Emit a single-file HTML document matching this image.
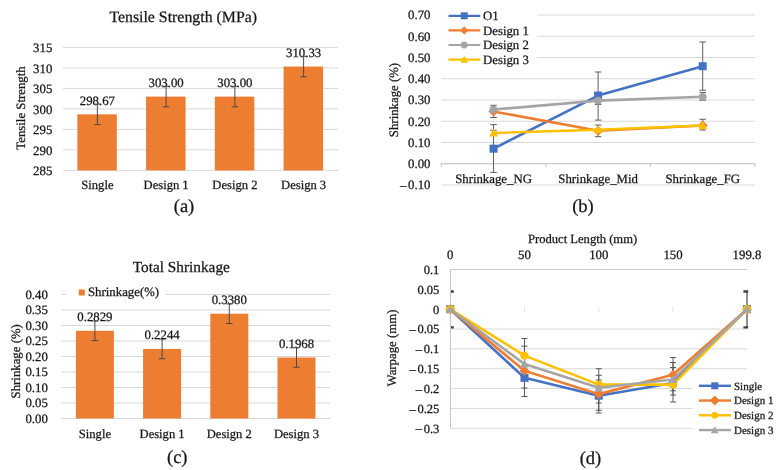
<!DOCTYPE html>
<html><head><meta charset="utf-8"><style>
html,body{margin:0;padding:0;background:#fff;}
svg{display:block;will-change:transform;}
text{font-family:"Liberation Serif", serif;text-rendering:geometricPrecision;stroke:#151515;stroke-width:0.25px;paint-order:stroke;}
</style></head><body>
<svg width="780" height="470" viewBox="0 0 780 470">
<rect x="0" y="0" width="780" height="470" fill="#fff"/>
<line x1="63.00" y1="170.40" x2="338.00" y2="170.40" stroke="#D9D9D9" stroke-width="1" />
<text x="52.30" y="175.10" font-size="12.8" text-anchor="end" fill="#151515" >285</text>
<line x1="63.00" y1="149.90" x2="338.00" y2="149.90" stroke="#D9D9D9" stroke-width="1" />
<text x="52.30" y="154.60" font-size="12.8" text-anchor="end" fill="#151515" >290</text>
<line x1="63.00" y1="129.40" x2="338.00" y2="129.40" stroke="#D9D9D9" stroke-width="1" />
<text x="52.30" y="134.10" font-size="12.8" text-anchor="end" fill="#151515" >295</text>
<line x1="63.00" y1="108.90" x2="338.00" y2="108.90" stroke="#D9D9D9" stroke-width="1" />
<text x="52.30" y="113.60" font-size="12.8" text-anchor="end" fill="#151515" >300</text>
<line x1="63.00" y1="88.40" x2="338.00" y2="88.40" stroke="#D9D9D9" stroke-width="1" />
<text x="52.30" y="93.10" font-size="12.8" text-anchor="end" fill="#151515" >305</text>
<line x1="63.00" y1="67.90" x2="338.00" y2="67.90" stroke="#D9D9D9" stroke-width="1" />
<text x="52.30" y="72.60" font-size="12.8" text-anchor="end" fill="#151515" >310</text>
<line x1="63.00" y1="47.40" x2="338.00" y2="47.40" stroke="#D9D9D9" stroke-width="1" />
<text x="52.30" y="52.10" font-size="12.8" text-anchor="end" fill="#151515" >315</text>
<text x="183.20" y="21.90" font-size="15.85" text-anchor="middle" fill="#151515" >Tensile Strength (MPa)</text>
<text x="0" y="0" font-size="12.8" text-anchor="middle" fill="#151515" transform="translate(25.00,108.00) rotate(-90)">Tensile Strength</text>
<rect x="77.33" y="114.35" width="39.50" height="56.05" fill="#ED7D31"/>
<rect x="146.07" y="96.60" width="39.50" height="73.80" fill="#ED7D31"/>
<rect x="214.82" y="96.60" width="39.50" height="73.80" fill="#ED7D31"/>
<rect x="283.57" y="66.55" width="39.50" height="103.85" fill="#ED7D31"/>
<text x="97.38" y="104.55" font-size="12.8" text-anchor="middle" fill="#151515" >298.67</text>
<line x1="97.38" y1="104.10" x2="97.38" y2="124.60" stroke="#4A4A4A" stroke-width="1" />
<line x1="94.12" y1="104.10" x2="100.62" y2="104.10" stroke="#4A4A4A" stroke-width="1" />
<line x1="94.12" y1="124.60" x2="100.62" y2="124.60" stroke="#4A4A4A" stroke-width="1" />
<text x="97.38" y="189.20" font-size="12.6" text-anchor="middle" fill="#151515" >Single</text>
<text x="166.12" y="86.80" font-size="12.8" text-anchor="middle" fill="#151515" >303.00</text>
<line x1="166.12" y1="86.35" x2="166.12" y2="106.85" stroke="#4A4A4A" stroke-width="1" />
<line x1="162.88" y1="86.35" x2="169.38" y2="86.35" stroke="#4A4A4A" stroke-width="1" />
<line x1="162.88" y1="106.85" x2="169.38" y2="106.85" stroke="#4A4A4A" stroke-width="1" />
<text x="166.12" y="189.20" font-size="12.6" text-anchor="middle" fill="#151515" >Design 1</text>
<text x="234.88" y="86.80" font-size="12.8" text-anchor="middle" fill="#151515" >303.00</text>
<line x1="234.88" y1="86.35" x2="234.88" y2="106.85" stroke="#4A4A4A" stroke-width="1" />
<line x1="231.62" y1="86.35" x2="238.12" y2="86.35" stroke="#4A4A4A" stroke-width="1" />
<line x1="231.62" y1="106.85" x2="238.12" y2="106.85" stroke="#4A4A4A" stroke-width="1" />
<text x="234.88" y="189.20" font-size="12.6" text-anchor="middle" fill="#151515" >Design 2</text>
<text x="303.62" y="56.75" font-size="12.8" text-anchor="middle" fill="#151515" >310.33</text>
<line x1="303.62" y1="56.30" x2="303.62" y2="76.80" stroke="#4A4A4A" stroke-width="1" />
<line x1="300.38" y1="56.30" x2="306.88" y2="56.30" stroke="#4A4A4A" stroke-width="1" />
<line x1="300.38" y1="76.80" x2="306.88" y2="76.80" stroke="#4A4A4A" stroke-width="1" />
<text x="303.62" y="189.20" font-size="12.6" text-anchor="middle" fill="#151515" >Design 3</text>
<text x="184.00" y="212.00" font-size="18.5" text-anchor="middle" fill="#151515" >(a)</text>
<line x1="441.25" y1="185.00" x2="755.00" y2="185.00" stroke="#D9D9D9" stroke-width="1" />
<line x1="441.25" y1="142.50" x2="755.00" y2="142.50" stroke="#D9D9D9" stroke-width="1" />
<line x1="441.25" y1="121.25" x2="755.00" y2="121.25" stroke="#D9D9D9" stroke-width="1" />
<line x1="441.25" y1="100.00" x2="755.00" y2="100.00" stroke="#D9D9D9" stroke-width="1" />
<line x1="441.25" y1="78.75" x2="755.00" y2="78.75" stroke="#D9D9D9" stroke-width="1" />
<line x1="441.25" y1="57.50" x2="755.00" y2="57.50" stroke="#D9D9D9" stroke-width="1" />
<line x1="441.25" y1="36.25" x2="755.00" y2="36.25" stroke="#D9D9D9" stroke-width="1" />
<line x1="441.25" y1="15.00" x2="755.00" y2="15.00" stroke="#D9D9D9" stroke-width="1" />
<text x="430.50" y="189.30" font-size="12.8" text-anchor="end" fill="#151515" >0.10</text>
<line x1="399.80" y1="186.50" x2="406.80" y2="186.50" stroke="#2A2A2A" stroke-width="0.9" />
<text x="430.50" y="168.05" font-size="12.8" text-anchor="end" fill="#151515" >0.00</text>
<text x="430.50" y="146.80" font-size="12.8" text-anchor="end" fill="#151515" >0.10</text>
<text x="430.50" y="125.55" font-size="12.8" text-anchor="end" fill="#151515" >0.20</text>
<text x="430.50" y="104.30" font-size="12.8" text-anchor="end" fill="#151515" >0.30</text>
<text x="430.50" y="83.05" font-size="12.8" text-anchor="end" fill="#151515" >0.40</text>
<text x="430.50" y="61.80" font-size="12.8" text-anchor="end" fill="#151515" >0.50</text>
<text x="430.50" y="40.55" font-size="12.8" text-anchor="end" fill="#151515" >0.60</text>
<text x="430.50" y="19.30" font-size="12.8" text-anchor="end" fill="#151515" >0.70</text>
<line x1="441.25" y1="163.75" x2="755.00" y2="163.75" stroke="#BFBFBF" stroke-width="1" />
<line x1="441.25" y1="163.75" x2="441.25" y2="166.75" stroke="#BFBFBF" stroke-width="1" />
<line x1="545.83" y1="163.75" x2="545.83" y2="166.75" stroke="#BFBFBF" stroke-width="1" />
<line x1="650.42" y1="163.75" x2="650.42" y2="166.75" stroke="#BFBFBF" stroke-width="1" />
<line x1="755.00" y1="163.75" x2="755.00" y2="166.75" stroke="#BFBFBF" stroke-width="1" />
<text x="0" y="0" font-size="12.8" text-anchor="middle" fill="#151515" transform="translate(397.80,100.00) rotate(-90)">Shrinkage (%)</text>
<text x="493.54" y="182.70" font-size="12.8" text-anchor="middle" fill="#151515" >Shrinkage_NG</text>
<text x="598.12" y="182.70" font-size="12.8" text-anchor="middle" fill="#151515" >Shrinkage_Mid</text>
<text x="702.71" y="182.70" font-size="12.8" text-anchor="middle" fill="#151515" >Shrinkage_FG</text>
<line x1="493.54" y1="124.60" x2="493.54" y2="172.40" stroke="#5F5F5F" stroke-width="1" />
<line x1="490.29" y1="124.60" x2="496.79" y2="124.60" stroke="#5F5F5F" stroke-width="1" />
<line x1="490.29" y1="172.40" x2="496.79" y2="172.40" stroke="#5F5F5F" stroke-width="1" />
<line x1="493.54" y1="105.30" x2="493.54" y2="117.50" stroke="#5F5F5F" stroke-width="1" />
<line x1="490.29" y1="105.30" x2="496.79" y2="105.30" stroke="#5F5F5F" stroke-width="1" />
<line x1="490.29" y1="117.50" x2="496.79" y2="117.50" stroke="#5F5F5F" stroke-width="1" />
<line x1="493.54" y1="130.30" x2="493.54" y2="135.00" stroke="#5F5F5F" stroke-width="1" />
<line x1="490.29" y1="130.30" x2="496.79" y2="130.30" stroke="#5F5F5F" stroke-width="1" />
<line x1="490.29" y1="135.00" x2="496.79" y2="135.00" stroke="#5F5F5F" stroke-width="1" />
<line x1="598.12" y1="72.00" x2="598.12" y2="120.10" stroke="#5F5F5F" stroke-width="1" />
<line x1="594.88" y1="72.00" x2="601.38" y2="72.00" stroke="#5F5F5F" stroke-width="1" />
<line x1="594.88" y1="120.10" x2="601.38" y2="120.10" stroke="#5F5F5F" stroke-width="1" />
<line x1="598.12" y1="125.00" x2="598.12" y2="136.70" stroke="#5F5F5F" stroke-width="1" />
<line x1="594.88" y1="125.00" x2="601.38" y2="125.00" stroke="#5F5F5F" stroke-width="1" />
<line x1="594.88" y1="136.70" x2="601.38" y2="136.70" stroke="#5F5F5F" stroke-width="1" />
<line x1="598.12" y1="97.00" x2="598.12" y2="104.50" stroke="#5F5F5F" stroke-width="1" />
<line x1="594.88" y1="97.00" x2="601.38" y2="97.00" stroke="#5F5F5F" stroke-width="1" />
<line x1="594.88" y1="104.50" x2="601.38" y2="104.50" stroke="#5F5F5F" stroke-width="1" />
<line x1="702.71" y1="42.00" x2="702.71" y2="90.20" stroke="#5F5F5F" stroke-width="1" />
<line x1="699.46" y1="42.00" x2="705.96" y2="42.00" stroke="#5F5F5F" stroke-width="1" />
<line x1="699.46" y1="90.20" x2="705.96" y2="90.20" stroke="#5F5F5F" stroke-width="1" />
<line x1="702.71" y1="92.40" x2="702.71" y2="100.20" stroke="#5F5F5F" stroke-width="1" />
<line x1="699.46" y1="92.40" x2="705.96" y2="92.40" stroke="#5F5F5F" stroke-width="1" />
<line x1="699.46" y1="100.20" x2="705.96" y2="100.20" stroke="#5F5F5F" stroke-width="1" />
<line x1="702.71" y1="119.30" x2="702.71" y2="130.00" stroke="#5F5F5F" stroke-width="1" />
<line x1="699.46" y1="119.30" x2="705.96" y2="119.30" stroke="#5F5F5F" stroke-width="1" />
<line x1="699.46" y1="130.00" x2="705.96" y2="130.00" stroke="#5F5F5F" stroke-width="1" />
<polyline points="493.54,148.66 598.12,95.54 702.71,66.21" fill="none" stroke="#4472C4" stroke-width="2.6" stroke-linejoin="round"/>
<rect x="489.54" y="144.66" width="8.00" height="8.00" fill="#4472C4"/>
<rect x="594.12" y="91.54" width="8.00" height="8.00" fill="#4472C4"/>
<rect x="698.71" y="62.21" width="8.00" height="8.00" fill="#4472C4"/>
<polyline points="493.54,111.47 598.12,130.81 702.71,125.50" fill="none" stroke="#ED7D31" stroke-width="2.6" stroke-linejoin="round"/>
<polygon points="493.54,106.52 498.50,111.47 493.54,116.43 488.58,111.47" fill="#ED7D31"/>
<polygon points="598.12,125.85 603.09,130.81 598.12,135.77 593.16,130.81" fill="#ED7D31"/>
<polygon points="702.71,120.54 707.67,125.50 702.71,130.46 697.75,125.50" fill="#ED7D31"/>
<polyline points="493.54,109.56 598.12,100.64 702.71,96.81" fill="none" stroke="#A5A5A5" stroke-width="2.6" stroke-linejoin="round"/>
<circle cx="493.54" cy="109.56" r="3.90" fill="#A5A5A5"/>
<circle cx="598.12" cy="100.64" r="3.90" fill="#A5A5A5"/>
<circle cx="702.71" cy="96.81" r="3.90" fill="#A5A5A5"/>
<polyline points="493.54,132.94 598.12,129.75 702.71,125.50" fill="none" stroke="#FFC000" stroke-width="2.6" stroke-linejoin="round"/>
<polygon points="493.54,128.54 497.94,136.54 489.14,136.54" fill="#FFC000"/>
<polygon points="598.12,125.35 602.52,133.35 593.73,133.35" fill="#FFC000"/>
<polygon points="702.71,121.10 707.11,129.10 698.31,129.10" fill="#FFC000"/>
<rect x="440.50" y="5.00" width="96.50" height="62.00" fill="#FFFFFF"/>
<line x1="448.50" y1="15.80" x2="480.30" y2="15.80" stroke="#4472C4" stroke-width="2.2" />
<rect x="460.75" y="12.30" width="7.00" height="7.00" fill="#4472C4"/>
<text x="483.00" y="20.20" font-size="12.8" text-anchor="start" fill="#151515" >O1</text>
<line x1="448.50" y1="30.40" x2="480.30" y2="30.40" stroke="#ED7D31" stroke-width="2.2" />
<polygon points="464.25,26.37 468.28,30.40 464.25,34.43 460.22,30.40" fill="#ED7D31"/>
<text x="483.00" y="34.80" font-size="12.8" text-anchor="start" fill="#151515" >Design 1</text>
<line x1="448.50" y1="45.00" x2="480.30" y2="45.00" stroke="#A5A5A5" stroke-width="2.2" />
<circle cx="464.25" cy="45.00" r="3.40" fill="#A5A5A5"/>
<text x="483.00" y="49.40" font-size="12.8" text-anchor="start" fill="#151515" >Design 2</text>
<line x1="448.50" y1="59.60" x2="480.30" y2="59.60" stroke="#FFC000" stroke-width="2.2" />
<polygon points="464.25,55.75 468.10,62.75 460.40,62.75" fill="#FFC000"/>
<text x="483.00" y="64.00" font-size="12.8" text-anchor="start" fill="#151515" >Design 3</text>
<text x="583.00" y="212.00" font-size="18.5" text-anchor="middle" fill="#151515" >(b)</text>
<line x1="61.30" y1="418.50" x2="330.10" y2="418.50" stroke="#D9D9D9" stroke-width="1" />
<text x="47.80" y="422.90" font-size="12.8" text-anchor="end" fill="#151515" >0.00</text>
<line x1="61.30" y1="403.00" x2="330.10" y2="403.00" stroke="#D9D9D9" stroke-width="1" />
<text x="47.80" y="407.40" font-size="12.8" text-anchor="end" fill="#151515" >0.05</text>
<line x1="61.30" y1="387.50" x2="330.10" y2="387.50" stroke="#D9D9D9" stroke-width="1" />
<text x="47.80" y="391.90" font-size="12.8" text-anchor="end" fill="#151515" >0.10</text>
<line x1="61.30" y1="372.00" x2="330.10" y2="372.00" stroke="#D9D9D9" stroke-width="1" />
<text x="47.80" y="376.40" font-size="12.8" text-anchor="end" fill="#151515" >0.15</text>
<line x1="61.30" y1="356.50" x2="330.10" y2="356.50" stroke="#D9D9D9" stroke-width="1" />
<text x="47.80" y="360.90" font-size="12.8" text-anchor="end" fill="#151515" >0.20</text>
<line x1="61.30" y1="341.00" x2="330.10" y2="341.00" stroke="#D9D9D9" stroke-width="1" />
<text x="47.80" y="345.40" font-size="12.8" text-anchor="end" fill="#151515" >0.25</text>
<line x1="61.30" y1="325.50" x2="330.10" y2="325.50" stroke="#D9D9D9" stroke-width="1" />
<text x="47.80" y="329.90" font-size="12.8" text-anchor="end" fill="#151515" >0.30</text>
<line x1="61.30" y1="310.00" x2="330.10" y2="310.00" stroke="#D9D9D9" stroke-width="1" />
<text x="47.80" y="314.40" font-size="12.8" text-anchor="end" fill="#151515" >0.35</text>
<line x1="61.30" y1="294.50" x2="330.10" y2="294.50" stroke="#D9D9D9" stroke-width="1" />
<text x="47.80" y="298.90" font-size="12.8" text-anchor="end" fill="#151515" >0.40</text>
<text x="181.30" y="271.90" font-size="15.3" text-anchor="middle" fill="#151515" >Total Shrinkage</text>
<text x="0" y="0" font-size="12.8" text-anchor="middle" fill="#151515" transform="translate(19.80,361.30) rotate(-90)">Shrinkage (%)</text>
<rect x="75.90" y="330.80" width="38.00" height="87.70" fill="#ED7D31"/>
<rect x="143.10" y="348.94" width="38.00" height="69.56" fill="#ED7D31"/>
<rect x="210.30" y="313.72" width="38.00" height="104.78" fill="#ED7D31"/>
<rect x="277.50" y="357.49" width="38.00" height="61.01" fill="#ED7D31"/>
<text x="94.90" y="321.30" font-size="12.8" text-anchor="middle" fill="#151515" >0.2829</text>
<line x1="94.90" y1="321.00" x2="94.90" y2="340.60" stroke="#4A4A4A" stroke-width="1" />
<line x1="91.65" y1="321.00" x2="98.15" y2="321.00" stroke="#4A4A4A" stroke-width="1" />
<line x1="91.65" y1="340.60" x2="98.15" y2="340.60" stroke="#4A4A4A" stroke-width="1" />
<text x="94.90" y="437.70" font-size="12.6" text-anchor="middle" fill="#151515" >Single</text>
<text x="162.10" y="339.44" font-size="12.8" text-anchor="middle" fill="#151515" >0.2244</text>
<line x1="162.10" y1="339.14" x2="162.10" y2="358.74" stroke="#4A4A4A" stroke-width="1" />
<line x1="158.85" y1="339.14" x2="165.35" y2="339.14" stroke="#4A4A4A" stroke-width="1" />
<line x1="158.85" y1="358.74" x2="165.35" y2="358.74" stroke="#4A4A4A" stroke-width="1" />
<text x="162.10" y="437.70" font-size="12.6" text-anchor="middle" fill="#151515" >Design 1</text>
<text x="229.30" y="304.22" font-size="12.8" text-anchor="middle" fill="#151515" >0.3380</text>
<line x1="229.30" y1="303.92" x2="229.30" y2="323.52" stroke="#4A4A4A" stroke-width="1" />
<line x1="226.05" y1="303.92" x2="232.55" y2="303.92" stroke="#4A4A4A" stroke-width="1" />
<line x1="226.05" y1="323.52" x2="232.55" y2="323.52" stroke="#4A4A4A" stroke-width="1" />
<text x="229.30" y="437.70" font-size="12.6" text-anchor="middle" fill="#151515" >Design 2</text>
<text x="296.50" y="347.99" font-size="12.8" text-anchor="middle" fill="#151515" >0.1968</text>
<line x1="296.50" y1="347.69" x2="296.50" y2="367.29" stroke="#4A4A4A" stroke-width="1" />
<line x1="293.25" y1="347.69" x2="299.75" y2="347.69" stroke="#4A4A4A" stroke-width="1" />
<line x1="293.25" y1="367.29" x2="299.75" y2="367.29" stroke="#4A4A4A" stroke-width="1" />
<text x="296.50" y="437.70" font-size="12.6" text-anchor="middle" fill="#151515" >Design 3</text>
<rect x="66.50" y="284.00" width="99.00" height="16.00" fill="#FFFFFF"/>
<rect x="78.80" y="289.50" width="6.00" height="6.00" fill="#ED7D31"/>
<text x="88.00" y="296.20" font-size="12.8" text-anchor="start" fill="#151515" >Shrinkage(%)</text>
<text x="177.25" y="462.60" font-size="18.5" text-anchor="middle" fill="#151515" >(c)</text>
<line x1="450.50" y1="329.04" x2="747.00" y2="329.04" stroke="#D9D9D9" stroke-width="1" />
<line x1="450.50" y1="348.88" x2="747.00" y2="348.88" stroke="#D9D9D9" stroke-width="1" />
<line x1="450.50" y1="368.73" x2="747.00" y2="368.73" stroke="#D9D9D9" stroke-width="1" />
<line x1="450.50" y1="388.57" x2="747.00" y2="388.57" stroke="#D9D9D9" stroke-width="1" />
<line x1="450.50" y1="408.41" x2="747.00" y2="408.41" stroke="#D9D9D9" stroke-width="1" />
<line x1="450.50" y1="269.50" x2="747.00" y2="269.50" stroke="#CACACA" stroke-width="1" />
<line x1="450.50" y1="428.26" x2="747.00" y2="428.26" stroke="#D9D9D9" stroke-width="1" />
<line x1="450.50" y1="269.50" x2="450.50" y2="428.26" stroke="#C4C4C4" stroke-width="1" />
<text x="439.30" y="273.90" font-size="12.5" text-anchor="end" fill="#151515" >0.1</text>
<text x="439.30" y="293.75" font-size="12.5" text-anchor="end" fill="#151515" >0.05</text>
<text x="439.30" y="313.59" font-size="12.5" text-anchor="end" fill="#151515" >0</text>
<text x="439.30" y="333.44" font-size="12.5" text-anchor="end" fill="#151515" >0.05</text>
<line x1="409.12" y1="330.50" x2="416.12" y2="330.50" stroke="#2A2A2A" stroke-width="0.9" />
<text x="439.30" y="353.28" font-size="12.5" text-anchor="end" fill="#151515" >0.1</text>
<line x1="415.38" y1="350.50" x2="422.38" y2="350.50" stroke="#2A2A2A" stroke-width="0.9" />
<text x="439.30" y="373.12" font-size="12.5" text-anchor="end" fill="#151515" >0.15</text>
<line x1="409.12" y1="370.50" x2="416.12" y2="370.50" stroke="#2A2A2A" stroke-width="0.9" />
<text x="439.30" y="392.97" font-size="12.5" text-anchor="end" fill="#151515" >0.2</text>
<line x1="415.38" y1="390.50" x2="422.38" y2="390.50" stroke="#2A2A2A" stroke-width="0.9" />
<text x="439.30" y="412.81" font-size="12.5" text-anchor="end" fill="#151515" >0.25</text>
<line x1="409.12" y1="410.50" x2="416.12" y2="410.50" stroke="#2A2A2A" stroke-width="0.9" />
<text x="439.30" y="432.66" font-size="12.5" text-anchor="end" fill="#151515" >0.3</text>
<line x1="415.38" y1="429.50" x2="422.38" y2="429.50" stroke="#2A2A2A" stroke-width="0.9" />
<line x1="524.48" y1="306.19" x2="524.48" y2="312.19" stroke="#E6E6E6" stroke-width="1" />
<line x1="598.75" y1="306.19" x2="598.75" y2="312.19" stroke="#E6E6E6" stroke-width="1" />
<line x1="673.02" y1="306.19" x2="673.02" y2="312.19" stroke="#E6E6E6" stroke-width="1" />
<text x="450.20" y="258.70" font-size="12.8" text-anchor="middle" fill="#151515" >0</text>
<text x="524.48" y="258.70" font-size="12.8" text-anchor="middle" fill="#151515" >50</text>
<text x="598.75" y="258.70" font-size="12.8" text-anchor="middle" fill="#151515" >100</text>
<text x="673.02" y="258.70" font-size="12.8" text-anchor="middle" fill="#151515" >150</text>
<text x="747.00" y="258.70" font-size="12.8" text-anchor="middle" fill="#151515" >199.8</text>
<text x="582.60" y="242.50" font-size="12.6" text-anchor="middle" fill="#151515" >Product Length (mm)</text>
<text x="0" y="0" font-size="12.8" text-anchor="middle" fill="#151515" transform="translate(396.00,348.00) rotate(-90)">Warpage (mm)</text>
<clipPath id="cd"><rect x="451" y="260" width="297.2" height="175"/></clipPath>
<g clip-path="url(#cd)">
<line x1="446.60" y1="291.50" x2="453.80" y2="291.50" stroke="#404040" stroke-width="2.4" />
<line x1="446.60" y1="327.40" x2="453.80" y2="327.40" stroke="#404040" stroke-width="2.4" />
<line x1="747.00" y1="291.30" x2="747.00" y2="327.30" stroke="#858585" stroke-width="1.8" />
<line x1="743.40" y1="291.50" x2="750.60" y2="291.50" stroke="#404040" stroke-width="2.4" />
<line x1="743.40" y1="327.40" x2="750.60" y2="327.40" stroke="#404040" stroke-width="2.4" />
<line x1="524.48" y1="338.50" x2="524.48" y2="396.50" stroke="#595959" stroke-width="1" />
<line x1="521.48" y1="338.50" x2="527.48" y2="338.50" stroke="#595959" stroke-width="1" />
<line x1="521.48" y1="396.50" x2="527.48" y2="396.50" stroke="#595959" stroke-width="1" />
<line x1="524.48" y1="346.20" x2="524.48" y2="388.00" stroke="#595959" stroke-width="1" />
<line x1="521.48" y1="346.20" x2="527.48" y2="346.20" stroke="#595959" stroke-width="1" />
<line x1="521.48" y1="388.00" x2="527.48" y2="388.00" stroke="#595959" stroke-width="1" />
<line x1="598.75" y1="368.70" x2="598.75" y2="410.30" stroke="#595959" stroke-width="1" />
<line x1="595.75" y1="368.70" x2="601.75" y2="368.70" stroke="#595959" stroke-width="1" />
<line x1="595.75" y1="410.30" x2="601.75" y2="410.30" stroke="#595959" stroke-width="1" />
<line x1="598.75" y1="375.30" x2="598.75" y2="403.00" stroke="#595959" stroke-width="1" />
<line x1="595.75" y1="375.30" x2="601.75" y2="375.30" stroke="#595959" stroke-width="1" />
<line x1="595.75" y1="403.00" x2="601.75" y2="403.00" stroke="#595959" stroke-width="1" />
<line x1="598.75" y1="380.00" x2="598.75" y2="413.00" stroke="#595959" stroke-width="1" />
<line x1="595.75" y1="380.00" x2="601.75" y2="380.00" stroke="#595959" stroke-width="1" />
<line x1="595.75" y1="413.00" x2="601.75" y2="413.00" stroke="#595959" stroke-width="1" />
<line x1="673.02" y1="357.50" x2="673.02" y2="402.00" stroke="#595959" stroke-width="1" />
<line x1="670.02" y1="357.50" x2="676.02" y2="357.50" stroke="#595959" stroke-width="1" />
<line x1="670.02" y1="402.00" x2="676.02" y2="402.00" stroke="#595959" stroke-width="1" />
<line x1="673.02" y1="362.50" x2="673.02" y2="395.00" stroke="#595959" stroke-width="1" />
<line x1="670.02" y1="362.50" x2="676.02" y2="362.50" stroke="#595959" stroke-width="1" />
<line x1="670.02" y1="395.00" x2="676.02" y2="395.00" stroke="#595959" stroke-width="1" />
<line x1="673.02" y1="367.50" x2="673.02" y2="390.80" stroke="#595959" stroke-width="1" />
<line x1="670.02" y1="367.50" x2="676.02" y2="367.50" stroke="#595959" stroke-width="1" />
<line x1="670.02" y1="390.80" x2="676.02" y2="390.80" stroke="#595959" stroke-width="1" />
</g>
<polyline points="450.20,309.19 524.48,377.85 598.75,395.71 673.02,383.01 747.00,309.19" fill="none" stroke="#4472C4" stroke-width="2.6" stroke-linejoin="round"/>
<rect x="446.20" y="305.19" width="8.00" height="8.00" fill="#4472C4"/>
<rect x="520.48" y="373.85" width="8.00" height="8.00" fill="#4472C4"/>
<rect x="594.75" y="391.71" width="8.00" height="8.00" fill="#4472C4"/>
<rect x="669.02" y="379.01" width="8.00" height="8.00" fill="#4472C4"/>
<rect x="743.00" y="305.19" width="8.00" height="8.00" fill="#4472C4"/>
<polyline points="450.20,309.19 524.48,370.71 598.75,394.13 673.02,374.68 747.00,309.19" fill="none" stroke="#ED7D31" stroke-width="2.6" stroke-linejoin="round"/>
<polygon points="450.20,304.23 455.16,309.19 450.20,314.15 445.24,309.19" fill="#ED7D31"/>
<polygon points="524.48,365.75 529.44,370.71 524.48,375.67 519.51,370.71" fill="#ED7D31"/>
<polygon points="598.75,389.17 603.71,394.13 598.75,399.09 593.79,394.13" fill="#ED7D31"/>
<polygon points="673.02,369.72 677.99,374.68 673.02,379.64 668.06,374.68" fill="#ED7D31"/>
<polygon points="747.00,304.23 751.96,309.19 747.00,314.15 742.04,309.19" fill="#ED7D31"/>
<polyline points="450.20,309.19 524.48,355.63 598.75,384.60 673.02,384.60 747.00,309.19" fill="none" stroke="#FFC000" stroke-width="2.6" stroke-linejoin="round"/>
<circle cx="450.20" cy="309.19" r="4.20" fill="#FFC000"/>
<circle cx="524.48" cy="355.63" r="4.20" fill="#FFC000"/>
<circle cx="598.75" cy="384.60" r="4.20" fill="#FFC000"/>
<circle cx="673.02" cy="384.60" r="4.20" fill="#FFC000"/>
<circle cx="747.00" cy="309.19" r="4.20" fill="#FFC000"/>
<polyline points="450.20,309.19 524.48,363.96 598.75,387.78 673.02,379.44 747.00,309.19" fill="none" stroke="#A5A5A5" stroke-width="2.6" stroke-linejoin="round"/>
<polygon points="450.20,304.79 454.60,312.79 445.80,312.79" fill="#A5A5A5"/>
<polygon points="524.48,359.56 528.88,367.56 520.08,367.56" fill="#A5A5A5"/>
<polygon points="598.75,383.38 603.15,391.38 594.35,391.38" fill="#A5A5A5"/>
<polygon points="673.02,375.04 677.42,383.04 668.62,383.04" fill="#A5A5A5"/>
<polygon points="747.00,304.79 751.40,312.79 742.60,312.79" fill="#A5A5A5"/>
<rect x="692.50" y="378.00" width="87.00" height="60.00" fill="#FFFFFF"/>
<line x1="699.00" y1="385.80" x2="731.00" y2="385.80" stroke="#4472C4" stroke-width="2.4" />
<rect x="711.30" y="382.30" width="7.00" height="7.00" fill="#4472C4"/>
<text x="734.00" y="389.70" font-size="11.0" text-anchor="start" fill="#151515" >Single</text>
<line x1="699.00" y1="400.55" x2="731.00" y2="400.55" stroke="#ED7D31" stroke-width="2.4" />
<polygon points="714.80,395.59 719.76,400.55 714.80,405.51 709.84,400.55" fill="#ED7D31"/>
<text x="734.00" y="404.45" font-size="11.0" text-anchor="start" fill="#151515" >Design 1</text>
<line x1="699.00" y1="415.30" x2="731.00" y2="415.30" stroke="#FFC000" stroke-width="2.4" />
<circle cx="714.80" cy="415.30" r="3.40" fill="#FFC000"/>
<text x="734.00" y="419.20" font-size="11.0" text-anchor="start" fill="#151515" >Design 2</text>
<line x1="699.00" y1="430.05" x2="731.00" y2="430.05" stroke="#A5A5A5" stroke-width="2.4" />
<polygon points="714.80,426.20 718.65,433.20 710.95,433.20" fill="#A5A5A5"/>
<text x="734.00" y="433.95" font-size="11.0" text-anchor="start" fill="#151515" >Design 3</text>
<text x="590.50" y="463.50" font-size="18.5" text-anchor="middle" fill="#151515" >(d)</text>
</svg>
</body></html>
